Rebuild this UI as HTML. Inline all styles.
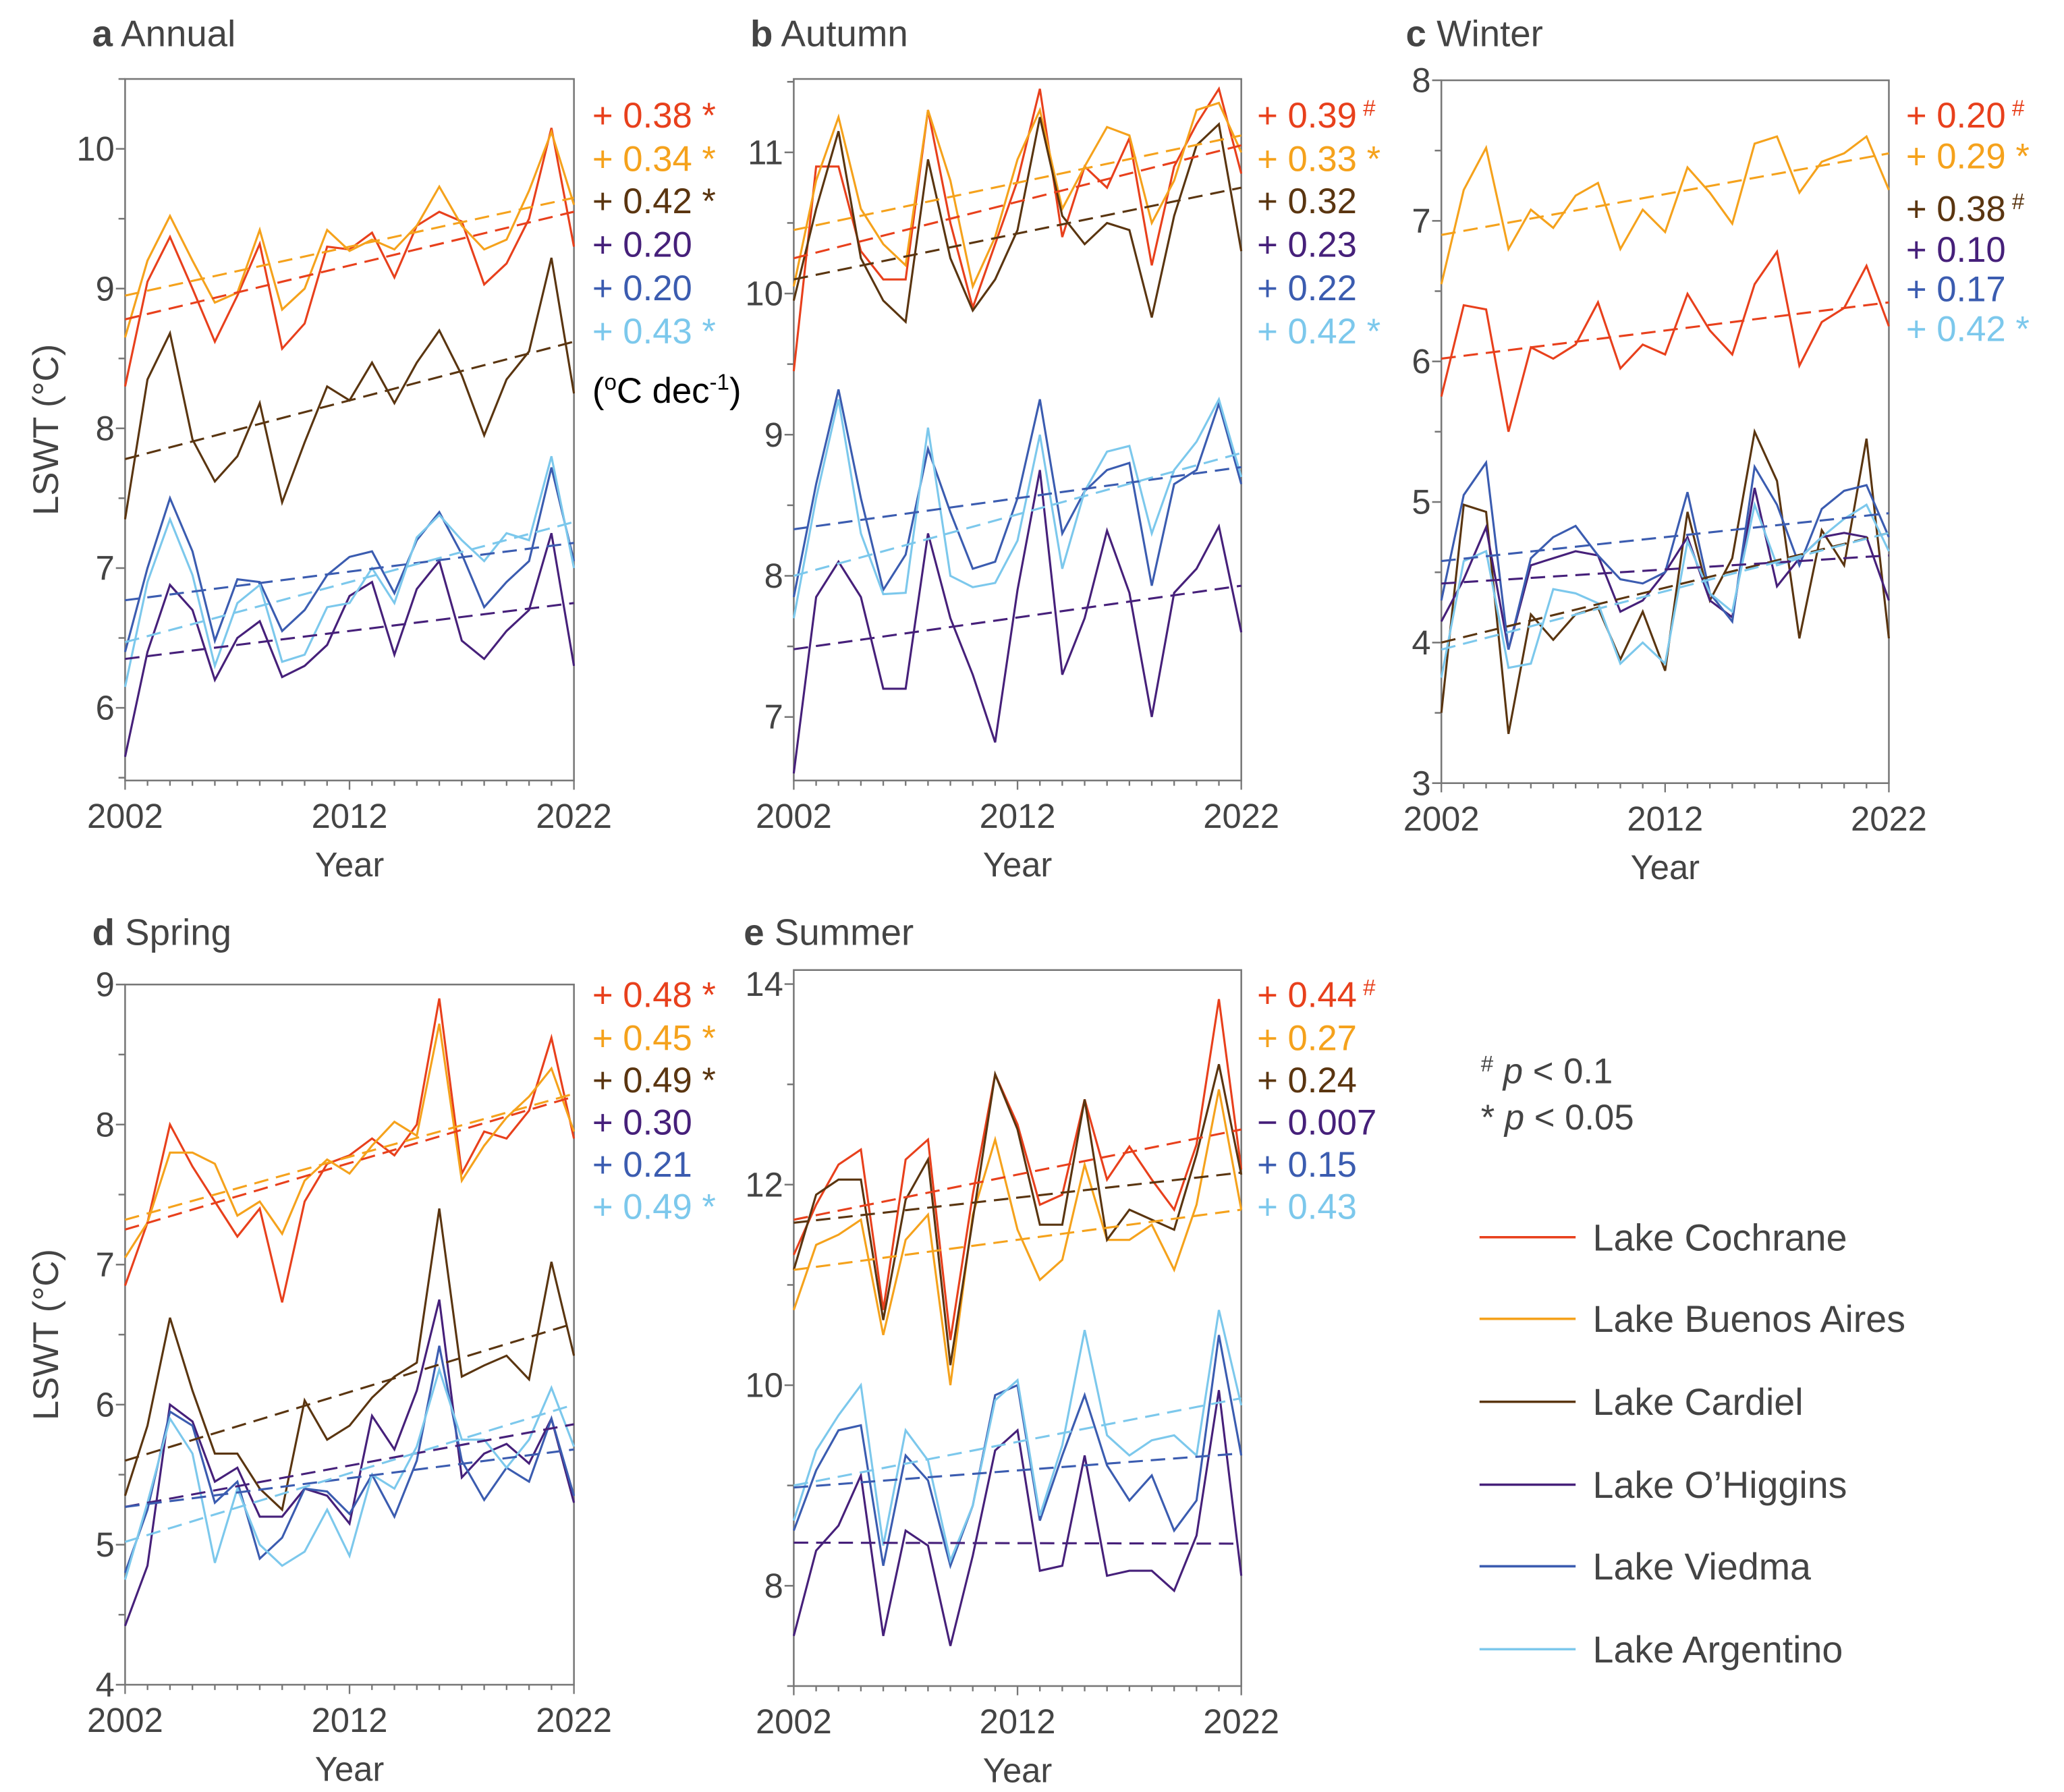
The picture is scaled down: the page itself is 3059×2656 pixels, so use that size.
<!DOCTYPE html>
<html><head><meta charset="utf-8"><style>
html,body{margin:0;padding:0;background:#fff}
svg{display:block}
text{font-family:"Liberation Sans",Arial,sans-serif}
</style></head><body>
<svg id="fig" width="3059" height="2656" viewBox="0 0 1568 1361.5" xmlns="http://www.w3.org/2000/svg"></svg>
<script>
const years = [2002,2003,2004,2005,2006,2007,2008,2009,2010,2011,2012,2013,2014,2015,2016,2017,2018,2019,2020,2021,2022];
const lakes = ["Lake Cochrane","Lake Buenos Aires","Lake Cardiel","Lake O\u2019Higgins","Lake Viedma","Lake Argentino"];
const colors = ["#e8401c","#f5a21c","#5a3510","#46207a","#3b5cb0","#7cc8ec"];

const annualVals = [
 [8.3,9.05,9.37,9.0,8.62,8.95,9.32,8.57,8.75,9.3,9.28,9.4,9.08,9.45,9.55,9.48,9.03,9.18,9.5,10.15,9.3],
 [8.65,9.2,9.52,9.2,8.9,8.97,9.42,8.85,9.0,9.42,9.27,9.35,9.28,9.45,9.73,9.45,9.28,9.35,9.7,10.12,9.6],
 [7.35,8.35,8.68,7.92,7.62,7.8,8.18,7.47,7.9,8.3,8.2,8.47,8.18,8.47,8.7,8.38,7.95,8.35,8.55,9.22,8.25],
 [5.65,6.4,6.88,6.7,6.2,6.5,6.62,6.22,6.3,6.45,6.8,6.9,6.38,6.85,7.05,6.48,6.35,6.55,6.7,7.25,6.3],
 [6.4,7.0,7.5,7.12,6.48,6.92,6.9,6.55,6.7,6.95,7.08,7.12,6.82,7.2,7.4,7.1,6.72,6.9,7.05,7.72,7.05],
 [6.15,6.9,7.35,6.95,6.3,6.75,6.88,6.33,6.38,6.72,6.75,7.0,6.75,7.22,7.38,7.2,7.05,7.25,7.2,7.8,7.0]];
const annualTrendStart = [8.78,8.95,7.78,6.35,6.77,6.47];
const annualTrendEnd = [9.55,9.65,8.62,6.75,7.18,7.33];
const annualRates = ["+ 0.38","+ 0.34","+ 0.42","+ 0.20","+ 0.20","+ 0.43"];
const annualSig = ["*","*","*","","","*"];

const autumnVals = [
 [9.45,10.9,10.9,10.3,10.1,10.1,11.3,10.5,9.9,10.35,10.8,11.45,10.4,10.9,10.75,11.1,10.2,10.9,11.2,11.45,10.85],
 [10.05,10.8,11.25,10.6,10.35,10.2,11.3,10.8,10.05,10.4,10.95,11.3,10.6,10.9,11.18,11.12,10.5,10.8,11.3,11.35,11.0],
 [9.95,10.6,11.15,10.25,9.95,9.8,10.95,10.25,9.88,10.1,10.45,11.25,10.55,10.35,10.5,10.45,9.83,10.55,11.05,11.2,10.3],
 [6.6,7.85,8.1,7.85,7.2,7.2,8.3,7.7,7.3,6.82,7.9,8.75,7.3,7.7,8.32,7.88,7.0,7.88,8.05,8.35,7.6],
 [7.85,8.65,9.32,8.55,7.9,8.15,8.9,8.45,8.05,8.1,8.55,9.25,8.3,8.6,8.75,8.8,7.93,8.65,8.75,9.22,8.65],
 [7.7,8.55,9.25,8.3,7.87,7.88,9.05,8.0,7.92,7.95,8.25,9.0,8.05,8.6,8.88,8.92,8.3,8.75,8.95,9.25,8.7]];
const autumnTrendStart = [10.25,10.45,10.1,7.48,8.33,8.0];
const autumnTrendEnd = [11.05,11.12,10.75,7.93,8.77,8.87];
const autumnRates = ["+ 0.39","+ 0.33","+ 0.32","+ 0.23","+ 0.22","+ 0.42"];
const autumnSig = ["#","*","","","","*"];

const winterVals = [
 [5.75,6.4,6.37,5.5,6.1,6.02,6.12,6.42,5.95,6.12,6.05,6.48,6.22,6.05,6.55,6.78,5.97,6.28,6.38,6.68,6.25],
 [6.55,7.22,7.52,6.8,7.08,6.95,7.18,7.27,6.8,7.08,6.92,7.38,7.2,6.98,7.55,7.6,7.2,7.42,7.48,7.6,7.22],
 [3.5,4.98,4.93,3.35,4.2,4.02,4.2,4.25,3.88,4.22,3.8,4.93,4.3,4.6,5.5,5.15,4.03,4.8,4.55,5.45,4.03],
 [4.15,4.45,4.82,3.95,4.55,4.6,4.65,4.62,4.22,4.3,4.5,4.75,4.3,4.18,5.1,4.4,4.6,4.75,4.78,4.75,4.3],
 [4.3,5.05,5.28,3.95,4.6,4.75,4.83,4.62,4.45,4.42,4.5,5.07,4.35,4.15,5.25,4.98,4.55,4.95,5.08,5.12,4.75],
 [3.75,4.58,4.65,3.82,3.85,4.38,4.35,4.28,3.85,4.0,3.85,4.72,4.35,4.22,4.98,4.55,4.6,4.75,4.88,4.98,4.65]];
const winterTrendStart = [6.02,6.9,4.0,4.42,4.58,3.95];
const winterTrendEnd = [6.42,7.48,4.78,4.62,4.92,4.78];
const winterRates = ["+ 0.20","+ 0.29","+ 0.38","+ 0.10","+ 0.17","+ 0.42"];
const winterSig = ["#","*","#","","","*"];

const springVals = [
 [6.85,7.3,8.0,7.7,7.45,7.2,7.4,6.73,7.45,7.72,7.78,7.9,7.78,8.0,8.9,7.65,7.95,7.9,8.1,8.62,7.9],
 [7.05,7.3,7.8,7.8,7.72,7.35,7.45,7.22,7.6,7.75,7.65,7.85,8.02,7.92,8.72,7.6,7.85,8.05,8.2,8.4,7.95],
 [5.35,5.85,6.62,6.1,5.65,5.65,5.4,5.25,6.03,5.75,5.85,6.05,6.2,6.3,7.4,6.2,6.28,6.35,6.18,7.02,6.35],
 [4.42,4.85,6.0,5.88,5.45,5.55,5.2,5.2,5.4,5.35,5.15,5.92,5.68,6.1,6.75,5.48,5.65,5.72,5.58,5.9,5.3],
 [4.8,5.25,5.95,5.85,5.3,5.45,4.9,5.05,5.4,5.38,5.22,5.5,5.2,5.6,6.42,5.6,5.32,5.55,5.45,5.9,5.35],
 [4.75,5.3,5.9,5.65,4.87,5.4,5.0,4.85,4.95,5.25,4.92,5.5,5.4,5.7,6.25,5.75,5.75,5.55,5.75,6.12,5.7]];
const springTrendStart = [7.25,7.32,5.6,5.27,5.27,5.02];
const springTrendEnd = [8.2,8.22,6.58,5.86,5.68,6.0];
const springRates = ["+ 0.48","+ 0.45","+ 0.49","+ 0.30","+ 0.21","+ 0.49"];
const springSig = ["*","*","*","","","*"];

const summerVals = [
 [11.3,11.8,12.2,12.35,10.75,12.25,12.45,10.45,11.9,13.1,12.6,11.8,11.9,12.85,12.05,12.38,12.05,11.75,12.4,13.85,12.15],
 [10.75,11.4,11.5,11.65,10.5,11.45,11.7,10.0,11.7,12.45,11.55,11.05,11.25,12.2,11.45,11.45,11.6,11.15,11.8,12.95,11.75],
 [11.15,11.9,12.05,12.05,10.65,11.85,12.25,10.2,11.65,13.1,12.55,11.6,11.6,12.85,11.45,11.75,11.65,11.55,12.3,13.2,12.1],
 [7.5,8.35,8.6,9.1,7.5,8.55,8.4,7.4,8.3,9.35,9.55,8.15,8.2,9.3,8.1,8.15,8.15,7.95,8.5,9.95,8.1],
 [8.55,9.15,9.55,9.6,8.2,9.3,9.05,8.2,8.8,9.9,10.0,8.65,9.3,9.9,9.2,8.85,9.1,8.55,8.85,10.5,9.3],
 [8.65,9.35,9.7,10.0,8.4,9.55,9.25,8.25,8.8,9.85,10.05,8.7,9.4,10.55,9.5,9.3,9.45,9.5,9.3,10.75,9.8]];
const summerTrendStart = [11.65,11.15,11.62,8.43,8.98,9.0];
const summerTrendEnd = [12.55,11.75,12.12,8.42,9.32,9.87];
const summerRates = ["+ 0.44","+ 0.27","+ 0.24","\u2212 0.007","+ 0.15","+ 0.43"];
const summerSig = ["#","","","","",""];

const NS="http://www.w3.org/2000/svg";
const svg=document.getElementById('fig');
function mk(tag,attrs,parent){const e=document.createElementNS(NS,tag);for(const k in attrs)e.setAttribute(k,attrs[k]);(parent||svg).appendChild(e);return e;}
function txt(s,attrs,parent){const e=mk('text',attrs,parent);e.textContent=s;return e;}

const panels=[
 {id:'annual',letter:'a',title:'Annual',x0:95,x1:436,top:60,bottom:593,ymin:5.48,ymax:10.5,ticks:[6,7,8,9,10],step:0.5,vals:annualVals,ts:annualTrendStart,te:annualTrendEnd,rates:annualRates,sig:annualSig,tx:70,ty:35,ax:450,ay:[88,121,153,186,219,252],ylab:true,unit:true},
 {id:'autumn',letter:'b',title:'Autumn',x0:603,x1:943,top:60,bottom:593,ymin:6.55,ymax:11.52,ticks:[7,8,9,10,11],step:0.5,vals:autumnVals,ts:autumnTrendStart,te:autumnTrendEnd,rates:autumnRates,sig:autumnSig,tx:570,ty:35,ax:955,ay:[88,121,153,186,219,252]},
 {id:'winter',letter:'c',title:'Winter',x0:1095,x1:1435,top:61,bottom:595,ymin:3,ymax:8,ticks:[3,4,5,6,7,8],step:0.5,vals:winterVals,ts:winterTrendStart,te:winterTrendEnd,rates:winterRates,sig:winterSig,tx:1068,ty:35,ax:1448,ay:[88,119,159,190,220,250]},
 {id:'spring',letter:'d',title:'Spring',x0:95,x1:436,top:748,bottom:1280,ymin:4,ymax:9,ticks:[4,5,6,7,8,9],step:0.5,vals:springVals,ts:springTrendStart,te:springTrendEnd,rates:springRates,sig:springSig,tx:70,ty:718,ax:450,ay:[756,789,821,853,885,917],ylab:true},
 {id:'summer',letter:'e',title:'Summer',x0:603,x1:943,top:737,bottom:1281,ymin:7,ymax:14.14,ticks:[8,10,12,14],step:1,vals:summerVals,ts:summerTrendStart,te:summerTrendEnd,rates:summerRates,sig:summerSig,tx:565,ty:718,ax:955,ay:[756,789,821,853,885,917]}
];

panels.forEach(p=>{
 const g=mk('g',{});
 
 
 const X=y=>p.x0+(y-2002)/20*(p.x1-p.x0);
 const Y=v=>p.bottom-(v-p.ymin)/(p.ymax-p.ymin)*(p.bottom-p.top);
 const t=txt('',{x:p.tx,y:p.ty,'font-size':28,fill:'#444'},g);
 
 
 const b=document.createElementNS(NS,'tspan');b.setAttribute('font-weight','bold');b.textContent=p.letter;t.appendChild(b);
 const r=document.createElementNS(NS,'tspan');r.textContent=' '+p.title;t.appendChild(r);
 const fr=mk('rect',{x:p.x0,y:p.top,width:p.x1-p.x0,height:p.bottom-p.top,fill:'none',stroke:'#777','stroke-width':1.3},g);
 
 
 for(let v=Math.ceil(p.ymin/p.step)*p.step; v<=p.ymax+1e-9; v+=p.step){
  const major=p.ticks.some(k=>Math.abs(k-v)<1e-6);
  mk('line',{x1:p.x0-(major?7:5),x2:p.x0,y1:Y(v),y2:Y(v),stroke:'#777','stroke-width':1.3},g);
 }
 p.ticks.forEach(v=>{
  const l=txt(String(v),{x:p.x0-8,y:Y(v)+9,'font-size':26,fill:'#444','text-anchor':'end'},g);
  
  
 });
 years.forEach(yr=>{const major=(yr-2002)%10===0;mk('line',{x1:X(yr),x2:X(yr),y1:p.bottom,y2:p.bottom+(major?7:4),stroke:'#777','stroke-width':1.2},g);});
 [2002,2012,2022].forEach(yr=>{
  const l=txt(String(yr),{x:X(yr),y:p.bottom+36,'font-size':26,fill:'#444','text-anchor':'middle'},g);
  
  
 });
 const xl=txt('Year',{x:(p.x0+p.x1)/2,y:p.bottom+73,'font-size':26,fill:'#444','text-anchor':'middle'},g);
 
 
 if(p.ylab){
  const cy=(p.top+p.bottom)/2;
  const yl=txt('LSWT (\u00B0C)',{x:44,y:cy,'font-size':27,fill:'#444','text-anchor':'middle',transform:`rotate(-90 44 ${cy})`},g);
  
  
 }
 p.vals.forEach((vals,i)=>{
  const pts=vals.map((v,j)=>X(years[j]).toFixed(1)+','+Y(v).toFixed(1)).join(' ');
  const pl=mk('polyline',{points:pts,fill:'none',stroke:colors[i],'stroke-width':1.6,'stroke-linejoin':'miter'},g);
  
  
 });
 p.vals.forEach((vals,i)=>{
  const tl=mk('line',{x1:X(2002),y1:Y(p.ts[i]),x2:X(2022),y2:Y(p.te[i]),stroke:colors[i],'stroke-width':1.6,'stroke-dasharray':'11,6'},g);
  
  
 });
 p.rates.forEach((s,i)=>{
  const rt=txt('',{x:p.ax,y:p.ay[i]+9,'font-size':27,fill:colors[i]},g);
  
  
  const a=document.createElementNS(NS,'tspan');a.textContent=s;rt.appendChild(a);
  if(p.sig[i]){const c=document.createElementNS(NS,'tspan');c.textContent=' '+p.sig[i];
   if(p.sig[i]==='#'){c.setAttribute('font-size',17);c.setAttribute('dy',-9);}rt.appendChild(c);}
 });
 if(p.unit){
  const u=txt('',{x:450,y:306,'font-size':27,fill:'#000'},g);
  
  
  const a=document.createElementNS(NS,'tspan');a.textContent='(';u.appendChild(a);
  const o=document.createElementNS(NS,'tspan');o.setAttribute('font-size',17);o.setAttribute('dy',-10);o.textContent='o';u.appendChild(o);
  const c=document.createElementNS(NS,'tspan');c.setAttribute('dy',10);c.textContent='C dec';u.appendChild(c);
  const m=document.createElementNS(NS,'tspan');m.setAttribute('font-size',17);m.setAttribute('dy',-10);m.textContent='-1';u.appendChild(m);
  const e=document.createElementNS(NS,'tspan');e.setAttribute('dy',10);e.textContent=')';u.appendChild(e);
 }
});

const k1=txt('',{x:1125,y:823,'font-size':27,fill:'#444'});


k1.innerHTML='<tspan font-size="17" dy="-9">#</tspan><tspan dy="9"> </tspan><tspan font-style="italic">p</tspan><tspan> &lt; 0.1</tspan>';
const k2=txt('',{x:1125,y:858,'font-size':27,fill:'#444'});


k2.innerHTML='<tspan>* </tspan><tspan font-style="italic">p</tspan><tspan> &lt; 0.05</tspan>';

const legY=[940,1002,1065,1128,1190,1253];
lakes.forEach((name,i)=>{
 const g=mk('g',{});
 
 
 mk('line',{x1:1124,x2:1197,y1:legY[i],y2:legY[i],stroke:colors[i],'stroke-width':1.8},g);
 txt(name,{x:1210,y:legY[i]+10,'font-size':28.5,fill:'#444'},g);
});
</script>
</body></html>
